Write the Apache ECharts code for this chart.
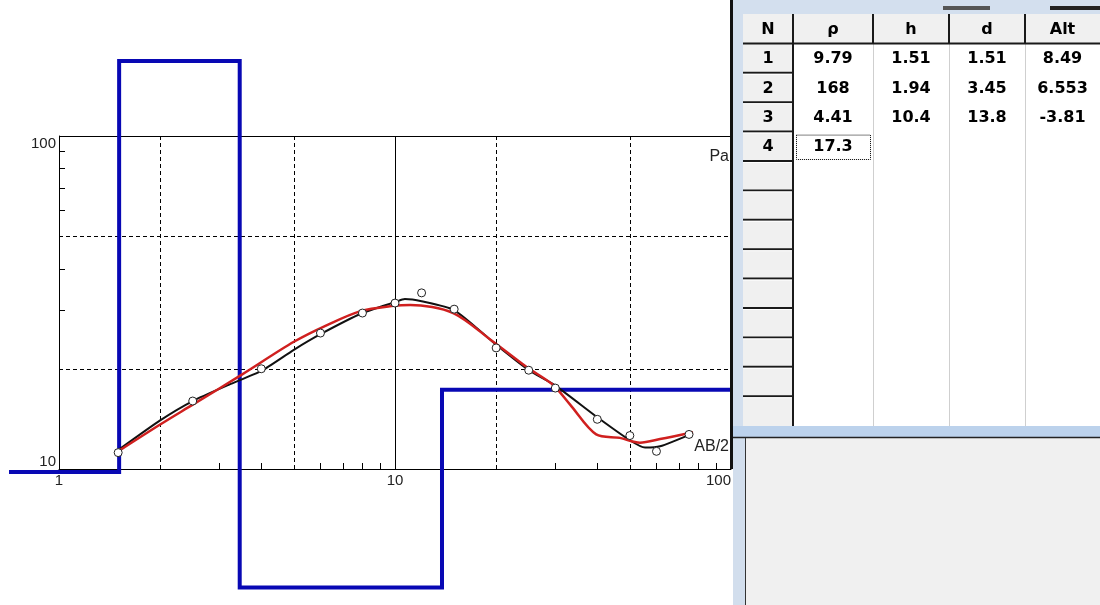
<!DOCTYPE html>
<html>
<head>
<meta charset="utf-8">
<script src="https://cdn.jsdelivr.net/npm/echarts@6/dist/echarts.min.js"></script>
<style>
  html, body { margin: 0; padding: 0; background: #ffffff; }
  #chart { width: 1100px; height: 605px; }
</style>
</head>
<body>
<div id="chart"></div>
<script>
// Layered-earth model: resistivity, thickness, depth to base, altitude of base
const layerRho = [9.79, 168, 4.41, 17.3];
const layerH = [1.51, 1.94, 10.4];
const layerD = [1.51, 3.45, 13.8];
const layerAlt = [8.49, 6.553, -3.81];
// The model step line runs from beyond the left edge to beyond the right edge
const modelStartX = 0.71;
const modelEndX = 110;

// Field sounding: AB/2 spacing and apparent resistivity
const abHalf = [1.5, 2.5, 4, 6, 8, 10, 12, 15, 20, 25, 30, 40, 50, 60, 75];
const rhoApparent = [11.2, 16.0, 20.0, 25.6, 29.4, 31.5, 33.8, 30.2, 23.1, 19.8, 17.5, 14.1, 12.6, 11.3, 12.7];

// Smoothed field curve
const curveX = [1.5, 2.0, 2.5, 3.2, 4.0, 5.0, 6.0, 8.0, 10.0, 10.7, 12.0, 15.0, 20.0, 25.0, 30.0, 40.0, 50.0, 55.5, 61.5, 77.0];
const curveRho = [11.4, 14.0, 16.0, 17.9, 19.7, 22.8, 25.4, 29.4, 31.7, 32.4, 31.9, 30.0, 23.6, 19.8, 17.8, 14.3, 12.2, 11.6, 11.7, 12.8];

// Response of the fitted model
const fitX = [1.5, 2.0, 2.5, 3.5, 5.0, 6.3, 7.9, 9.9, 11.1, 14.9, 19.6, 24.7, 29.5, 33.2, 39.7, 46.7, 53.6, 61.5, 77.1];
const fitRho = [11.3, 13.6, 15.6, 19.2, 24.1, 27.1, 29.8, 30.9, 31.1, 29.4, 24.1, 20.2, 17.9, 15.6, 12.7, 12.4, 12.0, 12.3, 12.9];

// Axis guides
const xDashed = [2, 5, 20, 50];
const yDashed = [20, 50];
const xMinor = [3, 4, 6, 7, 8, 9, 30, 40, 60, 70, 80, 90];
const yMinor = [30, 40, 60, 70, 80, 90];

const tableHead = ['N', 'ρ', 'h', 'd', 'Alt'];
const tableRows = 13;

// ---- plot frame layout ----
const plotLeft = 59, plotTop = 136, plotRight = 731, plotBottom = 469;
const xDecade = (plotRight - plotLeft) / 2;   // 1 .. 100
const yDecade = (plotBottom - plotTop) / 1;   // 10 .. 100
// a wider, hidden coordinate system with the same scale, so the model
// step can run past the frame on every side
const wideX = [0.7, 120];
const wideY = [4, 200];
const wideGrid = {
  left: plotLeft + xDecade * Math.log10(wideX[0]),
  right: 1100 - (plotLeft + xDecade * Math.log10(wideX[1])),
  top: plotBottom - yDecade * Math.log10(wideY[1] / 10),
  bottom: 605 - (plotBottom + yDecade * Math.log10(10 / wideY[0]))
};

// ---- build series data ----
const modelPts = [[modelStartX, layerRho[0]]];
layerD.forEach((d, i) => modelPts.push([d, layerRho[i + 1]]));
modelPts.push([modelEndX, layerRho[layerRho.length - 1]]);

const fieldPts = abHalf.map((x, i) => [x, rhoApparent[i]]);
const curvePts = curveX.map((x, i) => [x, curveRho[i]]);
const fitPts = fitX.map((x, i) => [x, fitRho[i]]);

const guideItems = []
  .concat(xDashed.map(v => [v, 10, 0]))
  .concat(yDashed.map(v => [1, v, 1]))
  .concat(xMinor.map(v => [v, 10, 2]))
  .concat(yMinor.map(v => [1, v, 3]));

function crisp(v) { return Math.round(v) + 0.5; }

function renderGuide(params, api) {
  const kind = api.value(2);
  const x = api.value(0), y = api.value(1);
  let a, b;
  if (kind === 0) {
    a = api.coord([x, 10]); b = api.coord([x, 100]);
    a[0] = b[0] = crisp(a[0]);
  } else if (kind === 1) {
    a = api.coord([1, y]); b = api.coord([100, y]);
    a[1] = b[1] = crisp(a[1]);
  } else if (kind === 2) {
    a = api.coord([x, 10]); a[0] = crisp(a[0]);
    b = [a[0], a[1] - 6];
  } else {
    a = api.coord([1, y]); a[1] = crisp(a[1]);
    b = [a[0] + 6, a[1]];
  }
  return {
    type: 'line',
    shape: { x1: a[0], y1: a[1], x2: b[0], y2: b[1] },
    style: { stroke: '#000', lineWidth: 1, lineDash: kind < 2 ? [4, 3] : null }
  };
}

// ---- data table panel ----
const colX = [743, 793, 873, 949, 1025, 1100];
const tTop = 14, rowH = 29.4;
const tBottom = 426;
const cellFont = 'bold 16px "DejaVu Sans"';
const panel = [];

panel.push({ type: 'rect', shape: { x: 733, y: 0, width: 367, height: 437 }, style: { fill: '#d3dfee' } });
panel.push({ type: 'rect', shape: { x: 943, y: 6, width: 47, height: 4 }, style: { fill: '#555' } });
panel.push({ type: 'rect', shape: { x: 1050, y: 6, width: 50, height: 4 }, style: { fill: '#222' } });
panel.push({ type: 'rect', shape: { x: 743, y: tTop, width: 357, height: tBottom - tTop }, style: { fill: '#ffffff' } });

// header cells
panel.push({ type: 'rect', shape: { x: 743, y: tTop, width: 357, height: rowH }, style: { fill: '#f0f0f0' } });
// row-number cells
panel.push({ type: 'rect', shape: { x: 743, y: tTop + rowH, width: 50, height: tBottom - tTop - rowH }, style: { fill: '#f0f0f0' } });

// light column separators in the body
for (let c = 2; c < 5; c++) {
  panel.push({ type: 'line', shape: { x1: colX[c] + 0.5, y1: tTop + rowH, x2: colX[c] + 0.5, y2: tBottom }, style: { stroke: '#cfcfcf', lineWidth: 1 } });
}
// dark header separators
for (let c = 1; c < 5; c++) {
  panel.push({ type: 'line', shape: { x1: colX[c], y1: tTop, x2: colX[c], y2: tTop + rowH }, style: { stroke: '#1a1a1a', lineWidth: 2 } });
}
panel.push({ type: 'line', shape: { x1: 743, y1: tTop + rowH, x2: 1100, y2: tTop + rowH }, style: { stroke: '#1a1a1a', lineWidth: 2 } });
// row-number column edge and row separators
panel.push({ type: 'line', shape: { x1: 793, y1: tTop, x2: 793, y2: tBottom }, style: { stroke: '#1a1a1a', lineWidth: 2 } });
for (let r = 2; r <= tableRows; r++) {
  const y = tTop + rowH * r;
  panel.push({ type: 'line', shape: { x1: 743, y1: y, x2: 792, y2: y }, style: { stroke: '#1a1a1a', lineWidth: 2 } });
  panel.push({ type: 'line', shape: { x1: 743, y1: y + 1.5, x2: 792, y2: y + 1.5 }, style: { stroke: '#ffffff', lineWidth: 1 } });
}

function cellText(text, col, row) {
  panel.push({
    type: 'text',
    style: {
      text: String(text),
      x: (colX[col] + colX[col + 1]) / 2,
      y: tTop + rowH * row + rowH / 2 + 1,
      align: 'center', verticalAlign: 'middle',
      font: cellFont, fill: '#000'
    }
  });
}
tableHead.forEach((t, c) => cellText(t, c, 0));
layerRho.forEach((v, i) => {
  cellText(i + 1, 0, i + 1);
  cellText(v, 1, i + 1);
  if (i < layerH.length) {
    cellText(layerH[i], 2, i + 1);
    cellText(layerD[i], 3, i + 1);
    cellText(layerAlt[i], 4, i + 1);
  }
});
// focus frame on the active cell
panel.push({
  type: 'rect',
  shape: { x: 796.5, y: tTop + rowH * 4 + 3.5, width: 74, height: rowH - 5 },
  style: { fill: 'none', stroke: '#000', lineWidth: 1, lineDash: [1, 1] }
});

// lower window area
panel.push({ type: 'rect', shape: { x: 733, y: 426, width: 367, height: 11 }, style: { fill: '#bcd2ec' } });
panel.push({ type: 'rect', shape: { x: 733, y: 437, width: 367, height: 168 }, style: { fill: '#f0f0f0' } });
panel.push({ type: 'rect', shape: { x: 733, y: 437, width: 12, height: 168 }, style: { fill: '#d2deed' } });
panel.push({ type: 'line', shape: { x1: 733, y1: 437.5, x2: 1100, y2: 437.5 }, style: { stroke: '#222', lineWidth: 1.5 } });
panel.push({ type: 'line', shape: { x1: 745.5, y1: 438, x2: 745.5, y2: 605 }, style: { stroke: '#333', lineWidth: 1 } });
// window edge next to the plot
panel.push({ type: 'rect', shape: { x: 730, y: 0, width: 3, height: 469 }, style: { fill: '#111' } });

panel.forEach(el => { el.z = 100; el.silent = true; });

// axis captions inside the plot
const captions = [
  { type: 'text', z: 50, style: { text: 'Pa', x: 729, y: 157, align: 'right', verticalAlign: 'middle', font: '16px "Liberation Sans"', fill: '#222' } },
  { type: 'text', z: 50, style: { text: 'AB/2', x: 729, y: 447, align: 'right', verticalAlign: 'middle', font: '16px "Liberation Sans"', fill: '#222' } }
];

const labelFont = { color: '#222', fontSize: 15, fontFamily: 'Liberation Sans' };

const chart = echarts.init(document.getElementById('chart'), null, { renderer: 'canvas' });
chart.setOption({
  animation: false,
  backgroundColor: '#ffffff',
  grid: [
    { left: plotLeft, right: 1100 - plotRight, top: plotTop, bottom: 605 - plotBottom, containLabel: false, outerBoundsMode: 'none' },
    Object.assign({ containLabel: false, outerBoundsMode: 'none' }, wideGrid)
  ],
  xAxis: [
    {
      type: 'log', logBase: 10, min: 1, max: 100, gridIndex: 0,
      axisLine: { show: true, lineStyle: { color: '#000', width: 1 } },
      axisTick: { show: false },
      axisLabel: Object.assign({ margin: 4, alignMaxLabel: 'right' }, labelFont),
      splitLine: { show: true, lineStyle: { color: '#000', width: 1 } }
    },
    { type: 'log', logBase: 10, min: wideX[0], max: wideX[1], gridIndex: 1, show: false }
  ],
  yAxis: [
    {
      type: 'log', logBase: 10, min: 10, max: 100, gridIndex: 0,
      axisLine: { show: true, lineStyle: { color: '#000', width: 1 } },
      axisTick: { show: false },
      axisLabel: Object.assign({ margin: 3, verticalAlignMaxLabel: 'top', verticalAlignMinLabel: 'bottom' }, labelFont),
      splitLine: { show: true, lineStyle: { color: '#000', width: 1 } }
    },
    { type: 'log', logBase: 10, min: wideY[0], max: wideY[1], gridIndex: 1, show: false }
  ],
  graphic: { elements: captions.concat(panel) },
  series: [
    {
      type: 'custom', name: 'guides', silent: true, z: 1,
      renderItem: renderGuide, data: guideItems
    },
    {
      type: 'line', name: 'model', data: modelPts, step: 'end', clip: false,
      xAxisIndex: 1, yAxisIndex: 1,
      showSymbol: false, silent: true, z: 2,
      lineStyle: { color: '#0808b4', width: 4, join: 'miter' }
    },
    {
      type: 'line', name: 'field curve', data: curvePts, smooth: 0.2,
      showSymbol: false, silent: true, z: 3,
      lineStyle: { color: '#111111', width: 2 }
    },
    {
      type: 'line', name: 'fit', data: fitPts, smooth: 0.3,
      showSymbol: false, silent: true, z: 4,
      lineStyle: { color: '#d0201f', width: 2.5 }
    },
    {
      type: 'scatter', name: 'field data', data: fieldPts, silent: true, z: 5,
      symbol: 'circle', symbolSize: 8,
      itemStyle: { color: '#ffffff', borderColor: '#222', borderWidth: 1, opacity: 1 }
    }
  ]
});
</script>
</body>
</html>
